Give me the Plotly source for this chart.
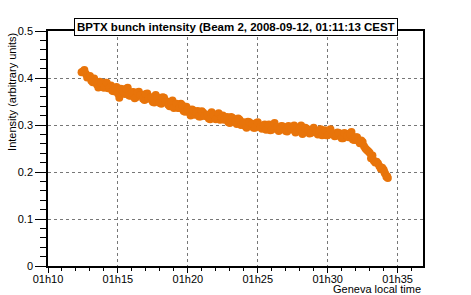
import plotly.graph_objects as go

# readings (minute:second after 01:00), first pass of samples
times_a = ["12:24","12:36","12:42","12:54","13:06","13:18","13:30","13:42","13:54","14:06",
           "14:18","14:30","14:42","14:54","15:06","15:18","15:30","15:42","15:54","16:06",
           "16:18","16:30","16:42","16:54","17:06","17:18","17:30","17:42","17:54","18:06",
           "18:18","18:30","18:42","18:54","19:06","19:18","19:30","19:42","19:54","20:06",
           "20:18","20:30","20:42","20:54","21:06","21:18","21:30","21:42","21:54","22:06",
           "22:18","22:30","22:42","22:54","23:06","23:18","23:30","23:42","23:54","24:06",
           "24:18","24:30","24:42","24:54","25:06","25:18","25:30","25:42","25:54","26:06",
           "26:18","26:30","26:42","26:54","27:06","27:18","27:30","27:42","27:54","28:06",
           "28:18","28:30","28:42","28:54","29:06","29:18","29:30","29:42","29:54","30:06",
           "30:18","30:30","30:42","30:54","31:06","31:18","31:30","31:42","31:54","32:06",
           "32:18","32:30","32:42","32:54","33:06","33:12","33:24","33:36","33:48","34:00",
           "34:06","34:12","34:18"]
intensity_a = [0.412,0.417,0.409,0.402,0.394,0.399,0.386,0.392,0.381,0.390,
               0.378,0.384,0.372,0.381,0.358,0.376,0.366,0.379,0.362,0.370,
               0.359,0.371,0.364,0.353,0.367,0.358,0.349,0.364,0.355,0.345,
               0.358,0.350,0.340,0.352,0.343,0.336,0.345,0.330,0.339,0.327,
               0.333,0.322,0.330,0.318,0.326,0.322,0.314,0.327,0.317,0.321,
               0.311,0.320,0.313,0.306,0.317,0.309,0.302,0.311,0.304,0.298,
               0.307,0.300,0.294,0.304,0.297,0.292,0.301,0.295,0.289,0.299,
               0.293,0.287,0.298,0.291,0.286,0.296,0.290,0.284,0.294,0.299,
               0.286,0.292,0.282,0.290,0.285,0.280,0.291,0.283,0.278,0.287,
               0.281,0.276,0.284,0.278,0.272,0.281,0.274,0.285,0.268,0.274,
               0.261,0.264,0.250,0.244,0.229,0.235,0.220,0.218,0.207,0.205,
               0.197,0.190,0.187]

# second pass of samples
times_b = ["12:30","12:48","13:00","13:12","13:24","13:36","13:48","14:00","14:12","14:24",
           "14:36","14:48","15:00","15:12","15:24","15:36","15:48","16:00","16:12","16:24",
           "16:36","16:48","17:00","17:12","17:24","17:36","17:48","18:00","18:12","18:24",
           "18:36","18:48","19:00","19:12","19:24","19:36","19:48","20:00","20:12","20:24",
           "20:36","20:48","21:00","21:12","21:24","21:36","21:48","22:00","22:12","22:24",
           "22:36","22:48","23:00","23:12","23:24","23:36","23:48","24:00","24:12","24:24",
           "24:36","24:48","25:00","25:12","25:24","25:36","25:48","26:00","26:12","26:24",
           "26:36","26:48","27:00","27:12","27:24","27:36","27:48","28:00","28:12","28:24",
           "28:36","28:48","29:00","29:12","29:24","29:36","29:48","30:00","30:12","30:24",
           "30:36","30:48","31:00","31:12","31:24","31:36","31:48","32:00","32:12","32:24",
           "32:36","32:48","33:00","33:18","33:30","33:42","33:54","34:03","34:15"]
intensity_b = [0.414,0.401,0.404,0.391,0.391,0.380,0.390,0.379,0.390,0.379,
               0.373,0.378,0.367,0.377,0.370,0.377,0.363,0.369,0.357,0.369,
               0.364,0.356,0.366,0.356,0.359,0.348,0.359,0.347,0.359,0.349,
               0.343,0.348,0.336,0.345,0.336,0.342,0.328,0.333,0.320,0.331,
               0.327,0.318,0.329,0.319,0.322,0.312,0.323,0.312,0.325,0.316,
               0.311,0.317,0.304,0.315,0.307,0.314,0.300,0.306,0.294,0.306,
               0.302,0.294,0.306,0.296,0.299,0.290,0.301,0.290,0.304,0.295,
               0.291,0.297,0.287,0.298,0.292,0.299,0.286,0.293,0.281,0.294,
               0.290,0.283,0.294,0.284,0.288,0.278,0.289,0.278,0.291,0.282,
               0.277,0.283,0.272,0.283,0.276,0.282,0.269,0.274,0.266,0.267,
               0.255,0.247,0.241,0.224,0.222,0.212,0.209,0.200,0.191]

x = ["2008-09-12 01:" + t for t in times_a + times_b]
y = intensity_a + intensity_b

title = "BPTX bunch intensity (Beam 2, 2008-09-12, 01:11:13 CEST"
font = "Liberation Sans, Arial, Helvetica, sans-serif"

fig = go.Figure()
fig.add_trace(go.Scatter(x=x, y=y, mode="markers",
                         marker=dict(size=8, color="#e8740a", line=dict(width=0)),
                         showlegend=False))

fig.update_layout(
    width=471, height=295,
    margin=dict(l=48, r=48, t=31, b=29, autoexpand=False),
    paper_bgcolor="white", plot_bgcolor="white",
    font=dict(family=font, size=11, color="black"),
    xaxis=dict(type="date", automargin=False,
               range=["2008-09-12 01:10:00", "2008-09-12 01:36:49"],
               dtick=300000, tick0="2008-09-12 01:10:00", tickformat="%Hh%M",
               ticks="outside", ticklen=5, tickcolor="black", ticklabelstandoff=-3,
               minor=dict(dtick=60000, ticks="outside", ticklen=3, tickcolor="black", showgrid=False),
               showgrid=True, gridcolor="#777", griddash="dot", gridwidth=1,
               showline=True, linecolor="black", linewidth=1.5, mirror=True,
               zeroline=False, tickfont=dict(size=11)),
    yaxis=dict(range=[0, 0.5], automargin=False, tickvals=[0, 0.1, 0.2, 0.3, 0.4, 0.5],
               ticktext=["0", "0.1", "0.2", "0.3", "0.4", "0.5"],
               ticks="outside", ticklen=11, tickcolor="black",
               minor=dict(dtick=0.02, ticks="outside", ticklen=6, tickcolor="black", showgrid=False),
               showgrid=True, gridcolor="#777", griddash="dot", gridwidth=1,
               showline=True, linecolor="black", linewidth=1.5, mirror=True,
               zeroline=False, tickfont=dict(size=11)),
)

fig.add_annotation(text="<b>" + title + "</b>", xref="paper", yref="paper",
                   x=0.5, y=1.018, xanchor="center", yanchor="middle", showarrow=False,
                   font=dict(size=11.5, family=font), bgcolor="white",
                   bordercolor="black", borderwidth=1, borderpad=2)
fig.add_annotation(text="Geneva local time", xref="paper", yref="paper",
                   x=1, y=-0.098, xanchor="right", yanchor="middle", showarrow=False,
                   font=dict(size=11, family=font))
fig.add_annotation(text="Intensity (arbitrary units)", xref="paper", yref="paper",
                   x=-0.075, y=1, xanchor="right", yanchor="top", textangle=-90,
                   showarrow=False, font=dict(size=11, family=font))

fig.write_html("out.html", config={"displayModeBar": False},
               post_script="document.body.style.margin='0';document.body.style.overflow='hidden';")
